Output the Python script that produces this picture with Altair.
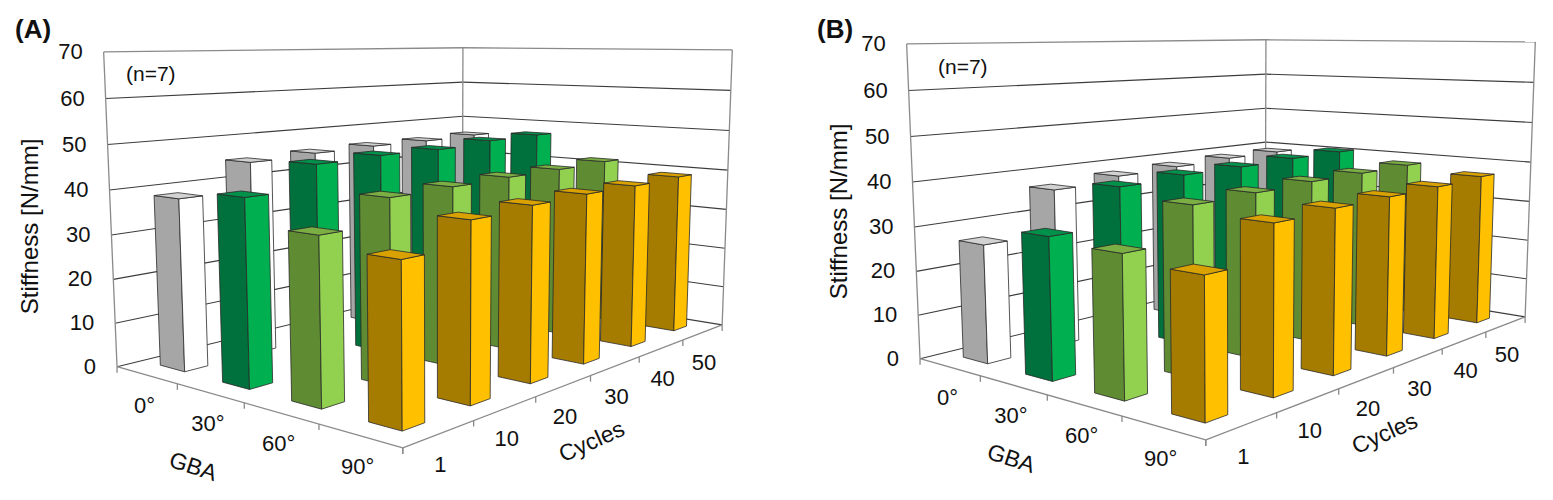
import math
import numpy as np
import pandas as pd
import altair as alt

# ---------------- data ----------------
GBA = ["0°", "30°", "60°", "90°"]
CYCLES = ["1", "10", "20", "30", "40", "50"]
Z_TICKS = [0, 10, 20, 30, 40, 50, 60, 70]

# Stiffness [N/mm]; one list per GBA, one value per cycle count
A_GBA0 = [38.6, 44.9, 45.5, 45.8, 45.8, 46.1]
A_GBA30 = [40.7, 45.9, 46.3, 46.2, 47.0, 47.2]
A_GBA60 = [35.1, 40.4, 40.7, 41.0, 41.1, 41.4]
A_GBA90 = [32.8, 37.8, 38.5, 38.8, 38.7, 39.0]

B_GBA0 = [26.7, 36.7, 38.0, 38.5, 39.0, 39.1]
B_GBA30 = [30.9, 39.2, 39.9, 40.0, 40.4, 40.5]
B_GBA60 = [29.9, 37.2, 37.6, 38.1, 38.2, 38.4]
B_GBA90 = [28.4, 35.6, 36.2, 36.4, 36.6, 37.1]

# ---------------- style ----------------
LEFT_COL = ["#A6A6A6", "#00703C", "#5F8B33", "#A67C00"]
RIGHT_COL = ["#FFFFFF", "#00B050", "#92D050", "#FFC000"]
TOP_COL = ["#D2D2D2", "#00924A", "#7BAE43", "#D9A200"]
GRID = "#3c3c3c"
FRAME = "#8a8a8a"
FONT = "Liberation Sans"
TXT = "#111111"

# 3-D view (camera) parameters
PSI = math.radians(39.8)     # azimuth
ELEV = math.radians(9.0)     # pitch
LG, LC, HZ = 308.0, 445.0, 251.5   # box size in world units
ZMAX = 70.0
DH, ZCAM, FOC = 1030.7, 263.7, 1223.5
BW, BD = 31.0, 23.5          # bar footprint

hvec = np.array([math.sin(PSI), -math.cos(PSI), 0.0])
rvec = np.array([math.cos(PSI), math.sin(PSI), 0.0])
zvec = np.array([0.0, 0.0, 1.0])
CAM = DH * hvec + ZCAM * zvec
fvec = -math.cos(ELEV) * hvec - math.sin(ELEV) * zvec
uvec = -math.sin(ELEV) * hvec + math.cos(ELEV) * zvec


def project(x, y, z, cx, cy):
    q = np.array([x, y, z]) - CAM
    xc, yc, zc = q @ rvec, q @ uvec, q @ fvec
    return float(cx + FOC * xc / zc), float(cy - FOC * yc / zc)


def depth(x, y, z):
    return float((np.array([x, y, z]) - CAM) @ fvec)


PW_A, PW_B, PH = 790, 733, 484


def panel(rows_vals, cx, cy, W, lab):
    xs = alt.X("sx:Q", scale=alt.Scale(domain=[0, W], nice=False, zero=False), axis=None)
    ys = alt.Y("sy:Q", scale=alt.Scale(domain=[0, PH], nice=False, zero=False, reverse=True), axis=None)

    xa, xb, ya, yb = -LG / 2, LG / 2, -LC / 2, LC / 2

    # ---- walls, gridlines, floor edges ----
    lines = []

    def seg(p, q, col, sw):
        a = project(*p, cx, cy)
        b = project(*q, cx, cy)
        lines.append(dict(sx=a[0], sy=a[1], sx2=b[0], sy2=b[1], col=col, sw=sw))

    for t in Z_TICKS:
        z = t * HZ / ZMAX
        col, sw = (FRAME, 1.3) if t == ZMAX else (GRID, 1.1)
        seg((xa, ya, z), (xa, yb, z), col, sw)
        seg((xa, yb, z), (xb, yb, z), col, sw)
    for (px, py) in [(xa, ya), (xa, yb), (xb, yb)]:
        seg((px, py, 0), (px, py, HZ), FRAME, 1.3)
    seg((xa, ya, 0), (xb, ya, 0), FRAME, 1.3)
    seg((xb, ya, 0), (xb, yb, 0), FRAME, 1.3)
    for i in range(len(GBA) + 1):
        p = project(xa + i * LG / len(GBA), ya, 0, cx, cy)
        lines.append(dict(sx=p[0], sy=p[1], sx2=p[0], sy2=p[1] + 6, col=FRAME, sw=1.3))
    for j in range(len(CYCLES) + 1):
        p = project(xb, ya + j * LC / len(CYCLES), 0, cx, cy)
        lines.append(dict(sx=p[0], sy=p[1], sx2=p[0], sy2=p[1] + 6, col=FRAME, sw=1.3))
    ldf = pd.DataFrame(lines)
    rules = alt.Chart(ldf).mark_rule().encode(
        x=xs, y=ys, x2="sx2:Q", y2="sy2:Q",
        color=alt.Color("col:N", scale=None),
        strokeWidth=alt.StrokeWidth("sw:Q", scale=None),
    )

    # ---- bars as projected faces ----
    bars = []
    for i, row in enumerate(rows_vals):
        xc = xa + (i + 0.5) * LG / len(GBA)
        for j, v in enumerate(row):
            yc = ya + (j + 0.5) * LC / len(CYCLES)
            z = v * HZ / ZMAX
            bars.append((depth(xc, yc, z / 2), i, j, xc, yc, z))
    bars.sort(key=lambda b: -b[0])
    prow = []
    for rank, (_, i, j, xc, yc, z) in enumerate(bars):
        x0, x1 = xc - BW / 2, xc + BW / 2
        y0, y1 = yc - BD / 2, yc + BD / 2
        faces = [
            ("a", LEFT_COL[i], [(x0, y0, 0), (x1, y0, 0), (x1, y0, z), (x0, y0, z)]),
            ("b", RIGHT_COL[i], [(x1, y0, 0), (x1, y1, 0), (x1, y1, z), (x1, y0, z)]),
            ("c", TOP_COL[i], [(x0, y0, z), (x1, y0, z), (x1, y1, z), (x0, y1, z)]),
        ]
        for tag, col, pts in faces:
            for k, p in enumerate(pts):
                sx, sy = project(*p, cx, cy)
                prow.append(dict(pid=f"{rank:03d}{tag}", k=k, sx=sx, sy=sy, fill=col))
    pdf = pd.DataFrame(prow).sort_values(["pid", "k"])
    faces_chart = alt.Chart(pdf).mark_line(
        filled=True, interpolate="linear-closed", stroke="#2a2a2a", strokeWidth=0.8
    ).encode(
        x=xs, y=ys,
        detail="pid:N",
        order="k:Q",
        fill=alt.Fill("fill:N", scale=None),
    )

    # ---- text ----
    ztxt = []
    for t in Z_TICKS:
        p = project(xa, ya, t * HZ / ZMAX, cx, cy)
        ztxt.append(dict(sx=p[0] - 21, sy=p[1], label=str(t)))
    zlab = alt.Chart(pd.DataFrame(ztxt)).mark_text(
        align="right", baseline="middle", fontSize=22, font=FONT, color=TXT
    ).encode(x=xs, y=ys, text="label:N")

    gtxt = []
    for i, g in enumerate(GBA):
        p = project(xa + (i + 0.5) * LG / len(GBA), ya, 0, cx, cy)
        gtxt.append(dict(sx=p[0] - 2, sy=p[1] + 31, label=g))
    for j, c in enumerate(CYCLES):
        p = project(xb, ya + (j + 0.5) * LC / len(CYCLES), 0, cx, cy)
        gtxt.append(dict(sx=p[0] + 1, sy=p[1] + 31, label=c))
    tick_lab = alt.Chart(pd.DataFrame(gtxt)).mark_text(
        align="center", baseline="middle", fontSize=22, font=FONT, color=TXT
    ).encode(x=xs, y=ys, text="label:N")

    def one(txt, pos, **kw):
        d = pd.DataFrame([dict(sx=pos[0], sy=pos[1], label=txt)])
        return alt.Chart(d).mark_text(font=FONT, color=TXT, **kw).encode(x=xs, y=ys, text="label:N")

    titles = [
        one(lab["tag"], lab["tag_pos"], align="left", baseline="middle", fontSize=26, fontWeight="bold"),
        one("(n=7)", lab["n_pos"], align="left", baseline="middle", fontSize=21),
        one("Stiffness [N/mm]", lab["y_pos"], align="center", baseline="middle", fontSize=24, angle=270),
        one("GBA", lab["g_pos"], align="center", baseline="middle", fontSize=23, angle=18),
        one("Cycles", lab["c_pos"], align="center", baseline="middle", fontSize=23, angle=336),
    ]

    return alt.layer(rules, faces_chart, zlab, tick_lab, *titles).properties(width=W, height=PH)


LAB_A = dict(tag="(A)", tag_pos=(7, 22), n_pos=(118, 67), y_pos=(23, 218.5),
             g_pos=(185, 459), c_pos=(584, 434))
LAB_B = dict(tag="(B)", tag_pos=(6, 22), n_pos=(127, 60), y_pos=(28.5, 203.5),
             g_pos=(200, 451), c_pos=(574, 426))

pA = panel([A_GBA0, A_GBA30, A_GBA60, A_GBA90], 432.0, 221.8, PW_A, LAB_A)
pB = panel([B_GBA0, B_GBA30, B_GBA60, B_GBA90], 432.0, 213.8, PW_B, LAB_B)

chart = alt.hconcat(pA, pB, spacing=13).properties(padding=0).configure_view(strokeWidth=0)
chart.save("out.html", embed_options={"renderer": "svg", "actions": False})
